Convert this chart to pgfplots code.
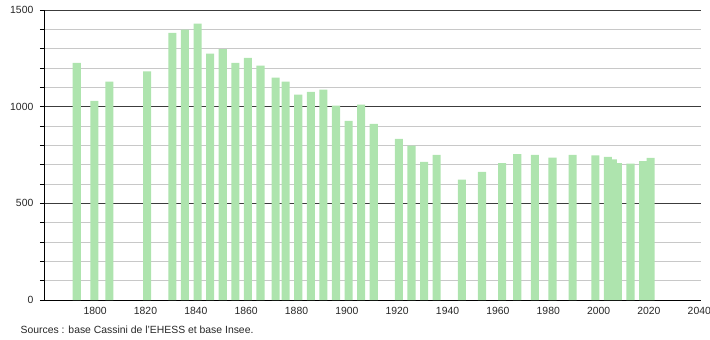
\documentclass[border=0pt]{standalone}
\usepackage{pgfplots}
\pgfplotsset{compat=1.18}
\usepackage{fontspec}
\setmainfont{Liberation Sans}
\definecolor{bargreen}{RGB}{174,228,174}
\definecolor{majgrid}{RGB}{60,60,60}
\definecolor{mingrid}{RGB}{200,200,200}
\begin{document}
\fontsize{10.4bp}{12bp}\selectfont
\begin{tikzpicture}
\path[use as bounding box] (0,0) rectangle (710bp,340bp);
\begin{axis}[
  at={(44bp,40bp)}, anchor=south west,
  scale only axis, width=657bp, height=290bp,
  xmin=1780, xmax=2041, ymin=0, ymax=1500,
  axis x line=bottom, axis y line=left,
  axis line style={-, black, line width=0.8pt},
  xtick={1800,1820,...,2040},
  x tick style={draw=none},
  ytick={0,500,1000,1500},
  minor y tick num=4,
  tick align=outside,
  y tick style={black, line width=0.6pt},
  major tick length=4bp, minor tick length=4bp,
  ymajorgrids, yminorgrids,
  major grid style={majgrid, line width=0.7pt},
  minor grid style={mingrid, line width=0.7pt},
  /pgf/number format/1000 sep={},
  /pgf/number format/assume math mode=true,
  tick label style={font=\fontsize{10.4bp}{12bp}\selectfont, text=black!85},
  yticklabel style={xshift=-3bp},
  xticklabel style={xshift=0.8bp},
  clip=false,
]
\addplot[ybar, bar width=3.2, fill=bargreen, draw=none] coordinates {
(1793,1227) (1800,1030) (1806,1129) (1821,1182) (1831,1382) (1836,1398)
(1841,1430) (1846,1274) (1851,1298) (1856,1227) (1861,1253) (1866,1212)
(1872,1150) (1876,1129) (1881,1062) (1886,1077) (1891,1088) (1896,1005)
(1901,927) (1906,1010) (1911,911) (1921,833) (1926,798) (1931,715)
(1936,750) (1946,622) (1954,663) (1962,708) (1968,755) (1975,750)
(1982,737) (1990,750) (1999,748) (2004,740) (2006,728) (2008,708)
(2013,705) (2018,718) (2021,735)
};
\end{axis}
\node[anchor=west, inner sep=0pt, text=black!85] at (20.5bp,10bp) {Sources : base Cassini de l'EHESS et base Insee.};
\end{tikzpicture}
\end{document}
